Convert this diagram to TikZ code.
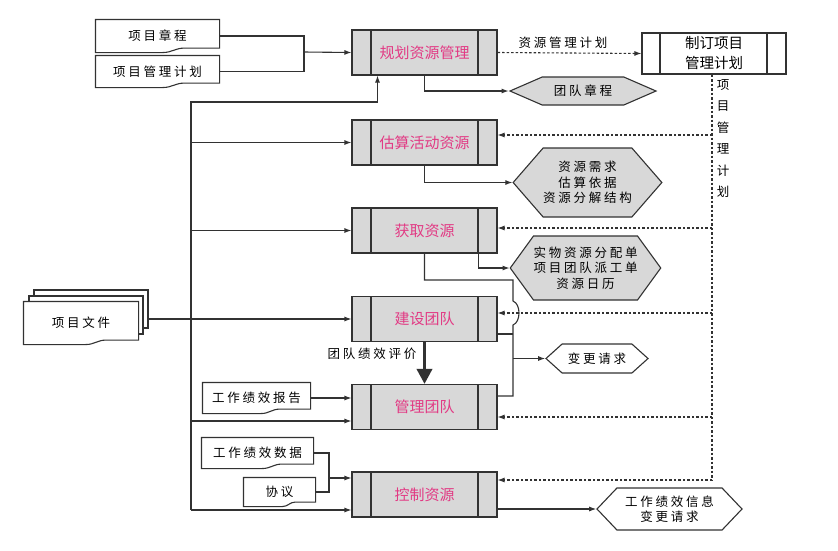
\documentclass[tikz,border=0pt]{standalone}
\usepackage{fontspec}
\newfontfamily\cjk{Noto Sans CJK SC}
\newfontfamily\cjkls[LetterSpace=22]{Noto Sans CJK SC}
\usetikzlibrary{arrows.meta,calc,shapes.symbols}
\definecolor{procgray}{RGB}{216,216,216}
\definecolor{procpink}{RGB}{226,58,132}
\definecolor{linegray}{RGB}{50,50,50}

\newcommand{\docoutline}[1]{%
  \draw (#1.north west) -- (#1.north east) -- ($(#1.south east)+(0,4.5pt)$)
    -- ($(#1.south west)!0.72!(#1.south east)+(0,4.5pt)$)
    .. controls ($(#1.south west)!0.64!(#1.south east)+(0,4.5pt)$)
    and ($(#1.south west)!0.62!(#1.south east)$) .. ($(#1.south west)!0.54!(#1.south east)$)
    -- (#1.south west) -- cycle;}

\begin{document}
\begin{tikzpicture}[x=1pt,y=-1pt,line width=1.1pt,color=linegray,
    >={Latex[length=7pt,width=5pt]},
    proc/.style={draw,fill=procgray,minimum width=145pt,minimum height=45pt,inner sep=0pt,
      text=procpink,font=\cjk\fontsize{15}{18}\selectfont,
      path picture={\draw ([xshift=19pt]path picture bounding box.north west) -- ([xshift=19pt]path picture bounding box.south west)
        ([xshift=-19pt]path picture bounding box.north east) -- ([xshift=-19pt]path picture bounding box.south east);}},
    docu/.style={fill=white,inner sep=0pt,text=black,font=\cjkls\fontsize{12.5}{15}\selectfont},
    sheet/.style={draw,fill=white,minimum width=114pt,minimum height=38pt,inner sep=0pt},
    outp/.style={shape=signal,signal to=west and east,draw,fill=procgray,inner sep=0pt,
      align=center,text=black,font=\cjkls\fontsize{12.5}{15.5}\selectfont},
    lbl/.style={inner sep=0pt,text=black,font=\cjkls\fontsize{12.5}{15}\selectfont},
    plandash/.style={dash pattern=on 2.5pt off 2pt}]
  \useasboundingbox (0,0) rectangle (838,550);

  \node[proc] (plan) at (424.5,52.5) {规划资源管理};
  \node[proc] (est) at (424.5,142.5) {估算活动资源};
  \node[proc] (acq) at (424.5,230.5) {获取资源};
  \node[proc] (dev) at (424.5,319) {建设团队};
  \node[proc] (mng) at (424.5,407) {管理团队};
  \node[proc] (ctl) at (424.5,494.5) {控制资源};

  \node[draw,fill=white,minimum width=144pt,minimum height=41pt,inner sep=0pt,align=center,
    text=black,font=\cjk\fontsize{14.5}{20}\selectfont,
    path picture={\draw ([xshift=18pt]path picture bounding box.north west) -- ([xshift=18pt]path picture bounding box.south west)
      ([xshift=-19pt]path picture bounding box.north east) -- ([xshift=-19pt]path picture bounding box.south east);}]
    (pmp) at (714,53.5) {制订项目\\管理计划};

  \node[docu,minimum width=123pt,minimum height=32pt] (charter) at (157.5,36) {项目章程};
  \docoutline{charter}
  \node[docu,minimum width=123pt,minimum height=31pt] (pmplan) at (157.5,71.5) {项目管理计划};
  \docoutline{pmplan}

  \node[sheet] (docs3) at (91,309) {};
  \node[sheet] (docs2) at (86,315) {};
  \node[docu,minimum width=114pt,minimum height=42pt] (docs) at (81,323) {项目文件};
  \docoutline{docs}

  \node[docu,minimum width=107pt,minimum height=30pt] (wpr) at (256.5,398) {工作绩效报告};
  \docoutline{wpr}
  \node[docu,minimum width=111pt,minimum height=30pt] (wpd) at (257.5,453) {工作绩效数据};
  \docoutline{wpd}
  \node[docu,minimum width=71pt,minimum height=28pt] (agr) at (279.5,492) {协议};
  \docoutline{agr}

  \node[outp,minimum width=146pt,minimum height=28pt,signal pointer angle=47] (tc) at (583,91) {团队章程};
  \node[outp,minimum width=145pt,minimum height=69pt,signal pointer angle=98] (rr) at (587.5,182.5) {资源需求\\估算依据\\资源分解结构};
  \node[outp,minimum width=145pt,minimum height=64pt,signal pointer angle=108] (alloc) at (585.5,268) {实物资源分配单\\项目团队派工单\\资源日历};
  \node[outp,fill=white,minimum width=102pt,minimum height=29pt,signal pointer angle=84] (cr) at (597,358.5) {变更请求};
  \node[outp,fill=white,minimum width=145pt,minimum height=42pt,signal pointer angle=93] (wpi) at (669.5,509) {工作绩效信息\\变更请求};

  \coordinate (j1) at (304,52);
  \draw (charter.east) -| (j1) |- (pmplan.east);
  \draw[->] (j1) -- (plan.west);

  \coordinate (t1) at (191,102);
  \coordinate (t0) at (191,510);
  \draw[->] (t0) -- (t1) -| ([xshift=-47pt]plan.south);
  \draw[->] (t0 |- est.west) -- (est.west);
  \draw[->] (t0 |- acq.west) -- (acq.west);
  \draw[->] (docs3.east |- dev.west) -- (dev.west);
  \draw[->] ([yshift=-14pt]mng.west -| t0) -- ([yshift=-14pt]mng.west);
  \draw[->] (t0) -- (t0 -| ctl.west);
  \draw[->] (wpr.east) -- (wpr.east -| mng.west);

  \coordinate (j4) at (329,478);
  \draw (wpd.east) -| (j4) |- (agr.east);
  \draw[->] (j4) -- (j4 -| ctl.west);

  \draw[->] (plan.south) |- (tc.west);
  \draw[->] (est.south) |- (rr.west);
  \draw[->] ([xshift=-19pt]acq.south east) |- (alloc.west);

  \coordinate (j2) at (513,280);
  \coordinate (j3) at (513,396);
  \draw (acq.south) |- (j2) -- ++(0,21) .. controls +(8,3) and +(8,-3) .. ++(0,24) -- (j3) -- (j3 -| mng.east);
  \draw ([yshift=-15pt]dev.east) -- ([yshift=-15pt]dev.east -| j2);
  \draw[->] (j2 |- cr.west) -- (cr.west);

  \draw[line width=3.5pt,-{Triangle[length=15pt,width=15pt]}] (dev.south) -- (mng.north);
  \node[lbl] (tpa) at (372,354) {团队绩效评价};

  \draw[->] (wpi.west -| ctl.east) -- (wpi.west);

  \draw[plandash,->] (plan.east) -- (pmp.west);
  \node[lbl] (rmp) at (563,43) {资源管理计划};

  \coordinate (d5) at (712,480);
  \draw[plandash] (d5 |- pmp.south) -- (d5);
  \draw[plandash,->] ([yshift=7.5pt]est.east -| d5) -- ([yshift=7.5pt]est.east);
  \draw[plandash,->] ([yshift=2.5pt]acq.east -| d5) -- ([yshift=2.5pt]acq.east);
  \draw[plandash,->] ([yshift=6pt]dev.east -| d5) -- ([yshift=6pt]dev.east);
  \draw[plandash,->] ([yshift=-10pt]mng.east -| d5) -- ([yshift=-10pt]mng.east);
  \draw[plandash,->] ([yshift=14.5pt]ctl.east -| d5) -- ([yshift=14.5pt]ctl.east);
  \node[lbl,align=center,font=\cjk\fontsize{12.5}{21.5}\selectfont] (pmpv) at (723,138.5) {项\\目\\管\\理\\计\\划};
\end{tikzpicture}
\end{document}
